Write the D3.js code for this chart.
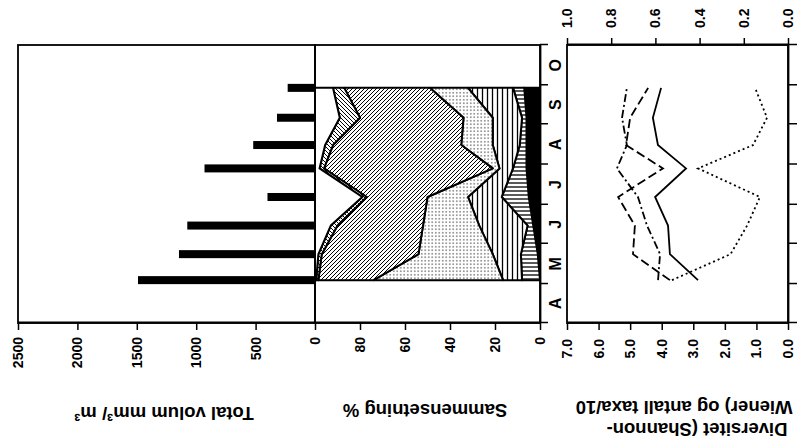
<!DOCTYPE html>
<html><head><meta charset="utf-8">
<script src="https://cdn.jsdelivr.net/npm/d3@7"></script>
<style>
body{margin:0;background:#fff}
svg text{font-family:"Liberation Sans",Arial,Helvetica,sans-serif;font-weight:bold;fill:#000}
</style></head><body>
<svg id="c" width="805" height="441"></svg>
<script>
// ---- data ----
const sampleDates = ["1990-05-04","1990-05-24","1990-06-15","1990-07-07","1990-07-29","1990-08-16","1990-09-06","1990-09-29"];
const monthLabels = ["A","M","J","J","A","S","O"];
const volume = [1490, 1145, 1075, 400, 930, 520, 320, 230];
const volumeTicks = [0, 500, 1000, 1500, 2000, 2500];
const compTicks = [0, 20, 40, 60, 80];
const diversityTicks = [0, 1, 2, 3, 4, 5, 6, 7];
const ratioTicks = [0, 0.2, 0.4, 0.6, 0.8, 1.0];
// composition (%) per group, stacked bottom -> top
const compBlack     = [0, 1, 3, 5, 6, 6, 6, 7];
const compHStripe   = [8, 7.5, 2.5, 12, 6, 3, 2, 5];
const compVStripe   = [8.4, 12.5, 21.5, 15, 6, 12, 13, 20];
const compDots      = [57.6, 33, 25, 18, 3, 14, 13, 17];
const compBigHatch  = [24.5, 43, 38, 27, 75, 57, 46, 38];
const compThinHatch = [1, 1.5, 3, 2, 2, 3.5, 9, 5];
const compOther     = [0.5, 1.5, 7, 21, 2, 4.5, 11, 8];
// diversity
const shannon   = [2.85, 3.74, 3.80, 4.21, 3.23, 4.12, 4.28, 4.02];
const taxa10    = [3.74, 4.91, 4.85, 5.38, 3.96, 5.13, 5.00, 4.43];
const evenness  = [0.588, 0.579, 0.638, 0.679, 0.774, 0.729, 0.751, 0.729];
const dominance = [0.525, 0.26, 0.185, 0.127, 0.407, 0.158, 0.095, 0.149];

// ---- drawing ----
const parse = d3.timeParse("%Y-%m-%d");
const dates = sampleDates.map(parse);
const svg = d3.select("#c");
const defs = svg.append("defs");
function pat(id, w, h, draw){
  const p = defs.append("pattern").attr("id", id).attr("patternUnits","userSpaceOnUse")
    .attr("width", w).attr("height", h).attr("patternTransform","rotate(90)");
  p.append("rect").attr("width", w).attr("height", h).attr("fill","#fff");
  draw(p);
}
pat("hs", 4, 4, p => p.append("path").attr("d","M0,2H4").attr("stroke","#000").attr("stroke-width",1.3));
pat("vs", 5, 5, p => p.append("path").attr("d","M2.5,0V5").attr("stroke","#000").attr("stroke-width",1.3));
pat("dt", 3.5, 3.5, p => p.append("circle").attr("cx",1.75).attr("cy",1.75).attr("r",0.65).attr("fill","#000"));
pat("bh", 4, 4, p => p.append("path").attr("d","M0,4L4,0M-1,1L1,-1M3,5L5,3").attr("stroke","#000").attr("stroke-width",1));
pat("th", 4, 4, p => p.append("path").attr("d","M0,0L4,4M-1,3L1,5M3,-1L5,1").attr("stroke","#000").attr("stroke-width",1));

const g = svg.append("g").attr("transform","translate(0,441) rotate(-90)");
const X0 = 118, X1 = 396;
const x = d3.scaleTime().domain([new Date(1990,3,1), new Date(1990,10,1)]).range([X0, X1]);
const yVol = d3.scaleLinear().domain([0,2500]).range([315,18]);
const yComp = d3.scaleLinear().domain([0,100]).range([540,315]);
const yDiv = d3.scaleLinear().domain([0,7]).range([788,567]);
const yRat = d3.scaleLinear().domain([0,1]).range([788,567]);
const monthStarts = d3.timeMonth.range(new Date(1990,3,1), new Date(1990,10,2));

// volume bars
g.selectAll("rect.bar").data(volume).join("rect").attr("class","bar")
  .attr("x",(d,i)=>x(dates[i])-4).attr("width",8)
  .attr("y",d=>yVol(d)).attr("height",d=>yVol(0)-yVol(d)).attr("fill","#000");

// composition stack
const keys = ["black","hs","vs","dt","bh","th","other"];
const groups = [compBlack, compHStripe, compVStripe, compDots, compBigHatch, compThinHatch, compOther];
const rows = dates.map((d,i)=>{const r={date:d}; keys.forEach((k,j)=>r[k]=groups[j][i]); return r;});
const series = d3.stack().keys(keys)(rows);
const area = d3.area().x(d=>x(d.data.date)).y0(d=>yComp(d[0])).y1(d=>yComp(d[1]));
g.selectAll("path.layer").data(series).join("path").attr("class","layer")
  .attr("d",area)
  .attr("fill",d=>d.key==="black"?"#000":d.key==="other"?"#fff":`url(#${d.key})`)
  .attr("stroke","#000").attr("stroke-width",2).attr("stroke-linejoin","round");

// diversity lines
const lineL = d3.line().x((d,i)=>x(dates[i])).y(d=>yDiv(d));
const lineR = d3.line().x((d,i)=>x(dates[i])).y(d=>yRat(d));
const divSeries = [
  {v:shannon, f:lineL, dash:null},
  {v:taxa10, f:lineL, dash:"9,4"},
  {v:evenness, f:lineR, dash:"8,3,2,3"},
  {v:dominance, f:lineR, dash:"2,3"}
];
divSeries.forEach(s=>{
  g.append("path").attr("d",s.f(s.v)).attr("fill","none").attr("stroke","#000")
   .attr("stroke-width",1.8).attr("stroke-dasharray",s.dash);
});

// frames
[[18,315],[315,540],[567,788]].forEach(([a,b])=>{
  g.append("rect").attr("x",X0).attr("y",a).attr("width",X1-X0).attr("height",b-a)
   .attr("fill","none").attr("stroke","#000").attr("stroke-width",1.8);
});

function styleAxis(sel){
  sel.selectAll("path.domain").attr("stroke-width",1.8);
  sel.selectAll(".tick line").attr("stroke-width",1.5);
  sel.selectAll("text").attr("font-size",14).attr("font-family",null);
}
g.append("g").attr("transform",`translate(${X0},0)`)
  .call(d3.axisLeft(yVol).tickValues(volumeTicks).tickFormat(d3.format("d")).tickSize(7).tickSizeOuter(0).tickPadding(7)).call(styleAxis);
g.append("g").attr("transform",`translate(${X0},0)`)
  .call(d3.axisLeft(yComp).tickValues(compTicks).tickFormat(d3.format("d")).tickSize(7).tickSizeOuter(0).tickPadding(7)).call(styleAxis);
g.append("g").attr("transform",`translate(${X0},0)`)
  .call(d3.axisLeft(yDiv).tickValues(diversityTicks).tickFormat(d3.format(".1f")).tickSize(7).tickSizeOuter(0).tickPadding(9)).call(styleAxis);
g.append("g").attr("transform",`translate(${X1},0)`)
  .call(d3.axisRight(yRat).tickValues(ratioTicks).tickFormat(d3.format(".1f")).tickSize(7).tickSizeOuter(0).tickPadding(10)).call(styleAxis);
g.append("g").attr("transform","translate(0,540)")
  .call(d3.axisBottom(x).tickValues(monthStarts).tickFormat("").tickSize(8).tickSizeOuter(0)).call(styleAxis);
g.append("g").attr("transform","translate(0,788)")
  .call(d3.axisBottom(x).tickValues(monthStarts).tickFormat("").tickSize(9).tickSizeOuter(0)).call(styleAxis);

// month labels
g.selectAll("text.month").data(monthLabels).join("text").attr("class","month")
  .attr("x",(d,i)=>(x(monthStarts[i])+x(monthStarts[i+1]))/2).attr("y",561)
  .attr("text-anchor","middle").attr("font-size",16).text(d=>d);

// axis titles
function title(cx, cy, txt){
  g.append("text").attr("transform",`translate(${cx},${cy}) rotate(-90)`)
   .attr("text-anchor","middle").attr("dy","0.35em").attr("font-size",18.5).text(txt);
}
title(28, 164, "Total volum mm³/ m³");
title(31, 425, "Sammensetning %");
title(12, 697, "Diversitet (Shannon-");
title(34, 684, "Wiener) og antall taxa/10");
</script></body></html>
